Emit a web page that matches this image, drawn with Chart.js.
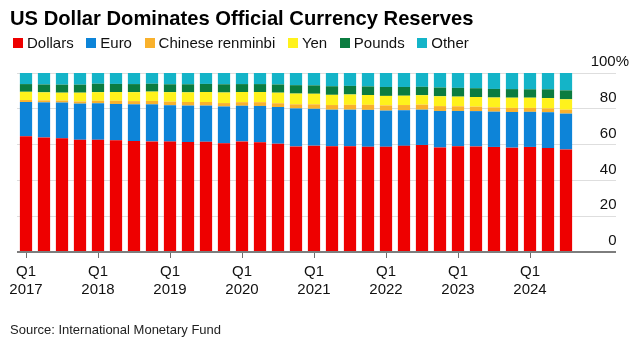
<!DOCTYPE html>
<html>
<head>
<meta charset="utf-8">
<title>US Dollar Dominates Official Currency Reserves</title>
<script src="https://cdn.jsdelivr.net/npm/chart.js@4.4.1/dist/chart.umd.min.js"></script>
<style>
    body { margin: 0; background: #fff; font-family: "Liberation Sans", Arial, sans-serif; }
    #wrap { position: relative; width: 642px; height: 343px; overflow: hidden; }
    #chart { position: absolute; left: 0; top: 0; }
    .title { position: absolute; left: 10px; top: 8px; font-size: 20.2px; font-weight: bold; line-height: 1; color: #000; white-space: nowrap; }
    #legend { position: absolute; left: 13px; top: 35px; display: flex; font-size: 15px; line-height: 1; color: #111; white-space: nowrap; }
    .legend-item { display: flex; align-items: center; margin-right: 12.6px; }
    .legend-box { width: 10px; height: 10px; margin-right: 4px; }
    .source { position: absolute; left: 10px; top: 323px; font-size: 13px; line-height: 1; color: #222; white-space: nowrap; }
</style>
</head>
<body>
<div id="wrap">
    <canvas id="chart" width="642" height="343"></canvas>
    <div class="title">US Dollar Dominates Official Currency Reserves</div>
    <div id="legend"></div>
    <div class="source">Source: International Monetary Fund</div>
</div>
<script>
// Quarterly share of allocated reserves, %
const quarters = [
    "2017 Q1", "2017 Q2", "2017 Q3", "2017 Q4",
    "2018 Q1", "2018 Q2", "2018 Q3", "2018 Q4",
    "2019 Q1", "2019 Q2", "2019 Q3", "2019 Q4",
    "2020 Q1", "2020 Q2", "2020 Q3", "2020 Q4",
    "2021 Q1", "2021 Q2", "2021 Q3", "2021 Q4",
    "2022 Q1", "2022 Q2", "2022 Q3", "2022 Q4",
    "2023 Q1", "2023 Q2", "2023 Q3", "2023 Q4",
    "2024 Q1", "2024 Q2", "2024 Q3",
];

const dollars = [64.7, 64.0, 63.5, 62.7, 62.7, 62.4, 62.0, 61.8, 61.7, 61.4, 61.6, 60.7, 61.8, 61.3, 60.5, 59.0,
    59.4, 59.1, 59.1, 58.8, 58.8, 59.3, 59.8, 58.4, 59.1, 59.0, 58.7, 58.3, 58.7, 58.1, 57.3];
const euro = [19.1, 19.6, 20.0, 20.2, 20.4, 20.3, 20.5, 20.7, 20.3, 20.4, 20.2, 20.6, 19.9, 20.3, 20.5, 21.2,
    20.6, 20.4, 20.4, 20.6, 20.2, 19.9, 19.7, 20.4, 19.7, 19.7, 19.7, 19.9, 19.6, 20.0, 20.0];
const renminbi = [1.1, 1.1, 1.1, 1.2, 1.4, 1.8, 1.8, 1.9, 2.0, 2.0, 2.0, 1.9, 2.0, 2.1, 2.1, 2.3,
    2.5, 2.6, 2.7, 2.8, 2.9, 2.9, 2.8, 2.7, 2.6, 2.5, 2.4, 2.3, 2.2, 2.1, 2.2];
const yen = [4.6, 4.5, 4.4, 4.9, 4.8, 4.9, 5.0, 5.2, 5.3, 5.4, 5.6, 5.9, 5.7, 5.7, 5.9, 6.0,
    5.9, 5.7, 5.8, 5.5, 5.3, 5.2, 5.3, 5.5, 5.4, 5.4, 5.5, 5.7, 5.7, 5.8, 5.8];
const pounds = [4.3, 4.4, 4.5, 4.5, 4.7, 4.5, 4.5, 4.4, 4.4, 4.5, 4.5, 4.6, 4.4, 4.4, 4.6, 4.7,
    4.7, 4.8, 4.8, 4.8, 5.0, 4.9, 4.7, 4.9, 4.9, 4.9, 4.8, 4.8, 4.7, 4.9, 5.0];
const other = [6.2, 6.4, 6.5, 6.5, 6.0, 6.1, 6.2, 6.0, 6.3, 6.3, 6.1, 6.3, 6.2, 6.2, 6.4, 6.8,
    6.9, 7.4, 7.2, 7.5, 7.8, 7.8, 7.7, 8.1, 8.3, 8.5, 8.9, 9.0, 9.1, 9.1, 9.7];

const seriesNames = ["Dollars", "Euro", "Chinese renminbi", "Yen", "Pounds", "Other"];
const seriesColors = ["#ee0000", "#0d84d8", "#f9b12c", "#fff21c", "#0b7c40", "#14b4c8"];
const seriesValues = [dollars, euro, renminbi, yen, pounds, other];

const yMin = 0;
const yMax = 100;
const yStep = 20;

// legend row above the plot
const legendBox = document.getElementById("legend");
seriesNames.forEach((name, i) => {
    const item = document.createElement("div");
    item.className = "legend-item";
    item.innerHTML = `<span class="legend-box" style="background:${seriesColors[i]}"></span><span>${name}</span>`;
    legendBox.appendChild(item);
});

const datasets = seriesNames.map((name, i) => ({
    label: name,
    data: seriesValues[i],
    backgroundColor: seriesColors[i],
    borderWidth: 0,
    barPercentage: 0.68,
    categoryPercentage: 1,
}));

new Chart(document.getElementById("chart"), {
    type: "bar",
    data: { labels: quarters, datasets },
    options: {
        responsive: false,
        animation: false,
        devicePixelRatio: 1,
        layout: { padding: { top: 73, right: 13, left: 17, bottom: 0 } },
        plugins: {
            legend: { display: false },
            tooltip: { enabled: false },
        },
        scales: {
            x: {
                stacked: true,
                border: { display: false },
                grid: {
                    display: true,
                    drawOnChartArea: false,
                    offset: false,
                    tickLength: 6,
                    tickWidth: 1,
                    tickColor: (ctx) => (ctx.index % 4 === 0 ? "#6e6e6e" : "rgba(0,0,0,0)"),
                },
                ticks: {
                    autoSkip: false,
                    maxRotation: 0,
                    padding: 5,
                    color: "#111",
                    font: { family: "'Liberation Sans', Arial, sans-serif", size: 15, lineHeight: 1.2 },
                    callback: (value, index) => {
                        const [year, q] = quarters[index].split(" ");
                        return q === "Q1" ? [q, year] : "";
                    },
                },
                afterFit: (scale) => { scale.height = 91; },
            },
            y: {
                stacked: true,
                position: "right",
                min: yMin,
                max: yMax,
                border: { display: false },
                grid: {
                    color: (ctx) => (ctx.tick && ctx.tick.value === 0 ? "#7d7d7d" : "#dedede"),
                    lineWidth: (ctx) => (ctx.tick && ctx.tick.value === 0 ? 2 : 1),
                    drawTicks: true,
                    tickLength: 41,
                },
                ticks: {
                    stepSize: yStep,
                    crossAlign: "far",
                    labelOffset: -11,
                    color: "#111",
                    font: { family: "'Liberation Sans', Arial, sans-serif", size: 15 },
                    // numbers line up on the right, the % hangs past them
                    callback: (value) => (value === yMax ? value + "%" : value + "\u2007\u2008"),
                },
                afterFit: (scale) => { scale.width = 54; },
            },
        },
    },
});
</script>
</body>
</html>
